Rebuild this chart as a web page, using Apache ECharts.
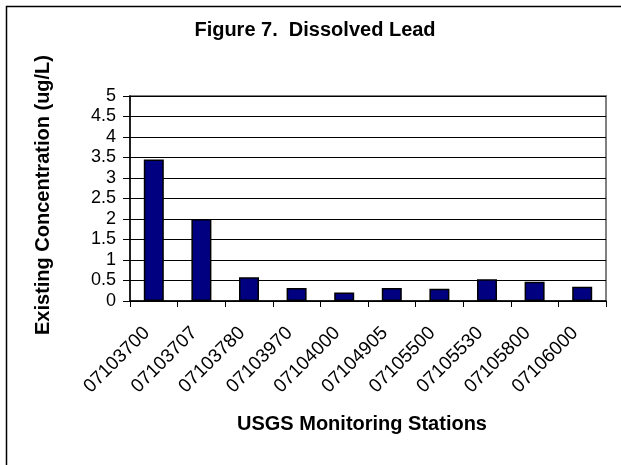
<!DOCTYPE html>
<html><head><meta charset="utf-8">
<script src="https://cdn.jsdelivr.net/npm/echarts@6/dist/echarts.min.js"></script>
<style>html,body{margin:0;padding:0;background:#fff}#c{width:621px;height:465px}</style>
</head><body><div id="c"></div>
<script>
const stations = ['07103700','07103707','07103780','07103970','07104000','07104905','07105500','07105530','07105800','07106000'];
const leadValues = [3.45, 2.0, 0.58, 0.32, 0.21, 0.32, 0.30, 0.53, 0.47, 0.35];
const yTicks = [0, 0.5, 1, 1.5, 2, 2.5, 3, 3.5, 4, 4.5, 5];
const titleText = 'Figure 7.  Dissolved Lead';
const xTitle = 'USGS Monitoring Stations';
const yTitle = 'Existing Concentration (ug/L)';

const chart = echarts.init(document.getElementById('c'), null, {renderer:'canvas'});
const F = 'Arial, "Liberation Sans", sans-serif';
chart.setOption({
  animation:false,
  backgroundColor:'#fff',
  grid:{left:130, right:15, top:96, bottom:164, show:true, borderColor:'#808080', borderWidth:2, backgroundColor:'transparent'},
  xAxis:{type:'category', data:stations, boundaryGap:true,
    axisLine:{lineStyle:{color:'#000', width:1.5}},
    axisTick:{show:true, alignWithLabel:false, length:6, lineStyle:{color:'#000', width:1}},
    axisLabel:{rotate:45, interval:0, color:'#000', fontFamily:F, fontSize:19, margin:22, padding:[0,10,0,0]}
  },
  yAxis:{type:'value', min:0, max:5, interval:0.5,
    axisLine:{show:true, lineStyle:{color:'#000', width:1.5}},
    axisTick:{show:true, length:7, lineStyle:{color:'#000'}},
    splitLine:{show:true, lineStyle:{color:'#000', width:1}},
    axisLabel:{color:'#000', fontFamily:F, fontSize:18, margin:14,
      formatter:function(v){ return yTicks.indexOf(v) >= 0 ? String(v) : ''; }}
  },
  series:[{type:'bar', data:leadValues, barWidth:20,
    itemStyle:{color:'#000080', borderColor:'#000', borderWidth:1.5}}],
  graphic:[
    {type:'rect', left:4, top:4, shape:{width:700, height:700}, style:{fill:'none', stroke:'#000', lineWidth:1.5}, z:-1},
    {type:'text', x:315, y:30, style:{text:titleText, font:'bold 20px '+F, fill:'#000', textAlign:'center', textVerticalAlign:'middle'}},
    {type:'text', x:362, y:424, style:{text:xTitle, font:'bold 20px '+F, fill:'#000', textAlign:'center', textVerticalAlign:'middle'}},
    {type:'text', x:43, y:195, rotation:Math.PI/2, style:{text:yTitle, font:'bold 20px '+F, fill:'#000', textAlign:'center', textVerticalAlign:'middle'}}
  ]
});
</script></body></html>
